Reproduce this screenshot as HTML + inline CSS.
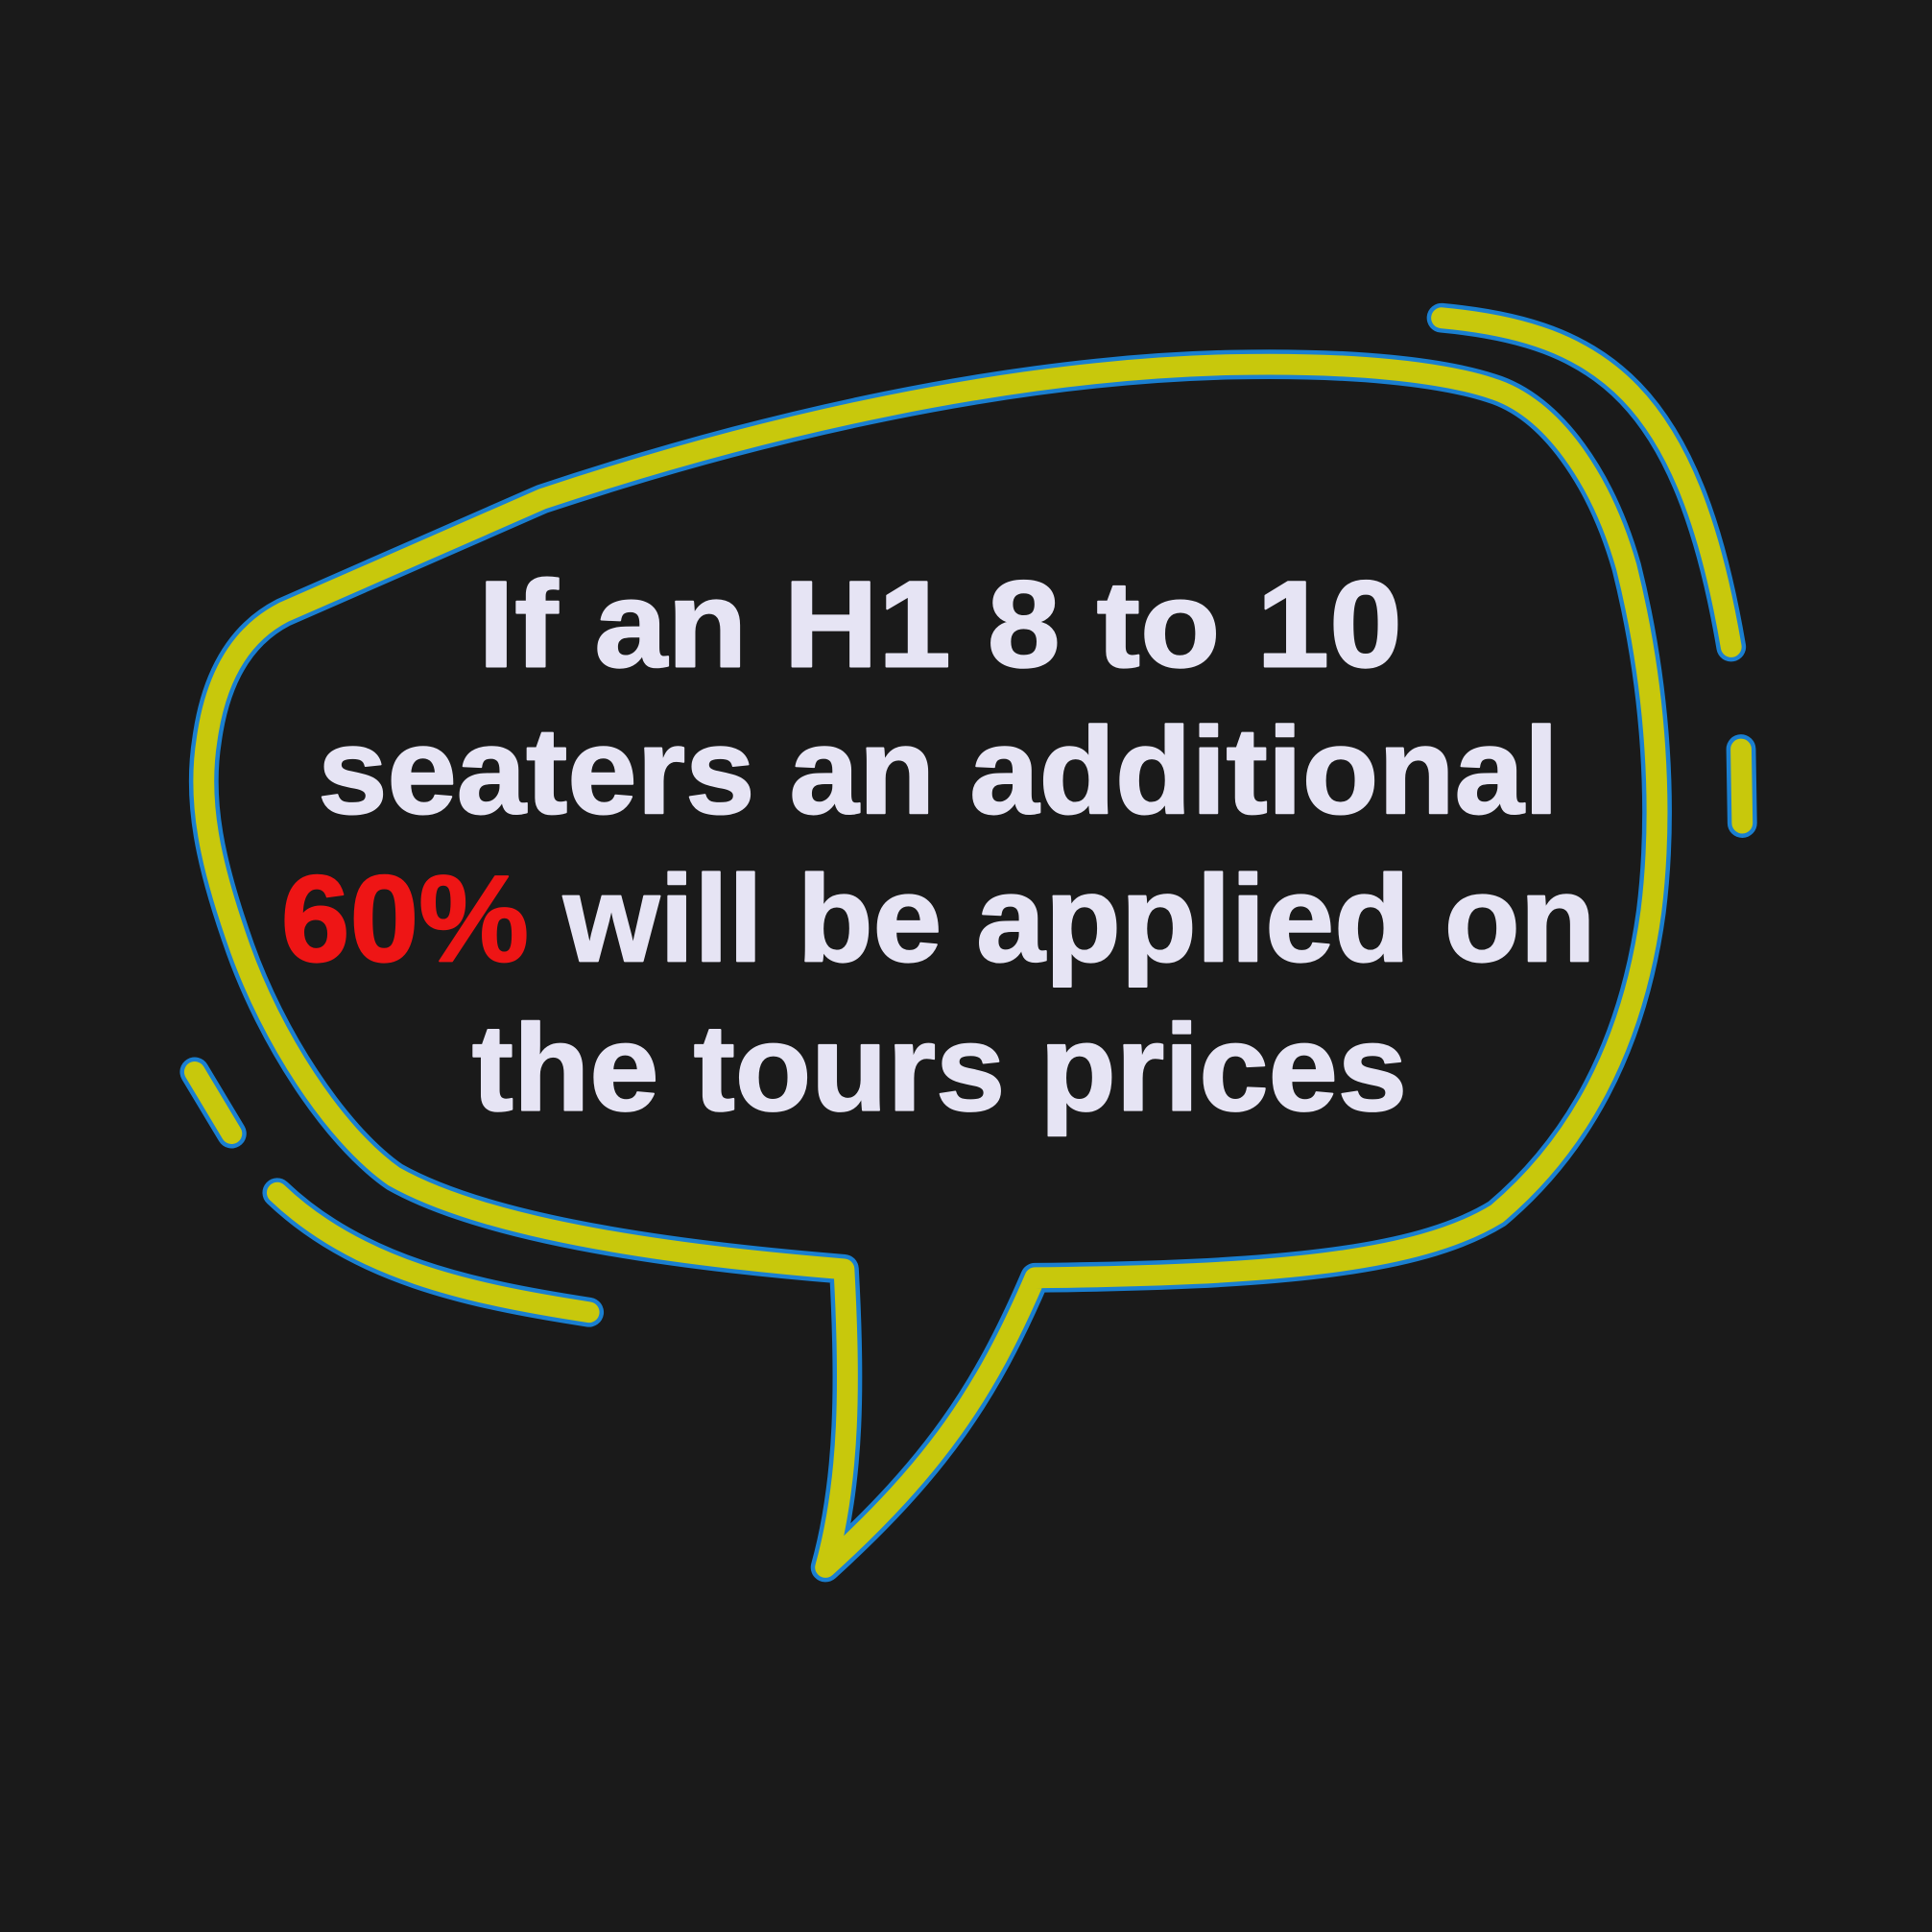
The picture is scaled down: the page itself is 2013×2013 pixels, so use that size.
<!DOCTYPE html>
<html><head><meta charset="utf-8"><style>
html,body{margin:0;padding:0;background:#1a1a1a;}
svg{display:block;}
text{font-family:"Liberation Sans",sans-serif;font-weight:bold;font-size:100px;fill:#e6e4f4;stroke:#e6e4f4;stroke-width:1.5;stroke-linejoin:round;}
</style></head><body>
<svg width="2013" height="2013" viewBox="0 0 1568 1568">
<rect width="1568" height="1568" fill="#1a1a1a"/>
<g fill="none" stroke-linecap="round" stroke-linejoin="round">
 <g stroke="#1a7fd0" stroke-width="24">
  <path d="M685 1030 C560 1020 400 1000 320 955 C270 920 220 840 195 770 C170 700 160 650 168 600 C175 550 195 515 230 497 L440 405 C620 345 820 300 1000 296 C1100 294 1170 302 1210 315 C1260 330 1300 390 1320 460 C1345 560 1350 660 1340 740 C1325 850 1280 930 1215 985 C1150 1025 1030 1035 840 1037 C800 1130 760 1190 670 1272 C690 1200 690 1120 685 1030 Z"/>
  <path d="M1170 258 C1300 270 1370 320 1405 525"/>
  <path d="M1413 608 L1414 668"/>
  <path d="M158 870 L188 920"/>
  <path d="M225 968 C290 1030 380 1050 478 1065"/>
 </g>
 <g stroke="#c8c80c" stroke-width="17">
  <path d="M685 1030 C560 1020 400 1000 320 955 C270 920 220 840 195 770 C170 700 160 650 168 600 C175 550 195 515 230 497 L440 405 C620 345 820 300 1000 296 C1100 294 1170 302 1210 315 C1260 330 1300 390 1320 460 C1345 560 1350 660 1340 740 C1325 850 1280 930 1215 985 C1150 1025 1030 1035 840 1037 C800 1130 760 1190 670 1272 C690 1200 690 1120 685 1030 Z"/>
  <path d="M1170 258 C1300 270 1370 320 1405 525"/>
  <path d="M1413 608 L1414 668"/>
  <path d="M158 870 L188 920"/>
  <path d="M225 968 C290 1030 380 1050 478 1065"/>
 </g>
</g>
<g>
 <text x="388" y="541" textLength="750" lengthAdjust="spacingAndGlyphs">If an H1  8 to 10</text>
 <text x="258" y="660" textLength="1007" lengthAdjust="spacingAndGlyphs">seaters an additional</text>
 <text x="228" y="780" textLength="1067" lengthAdjust="spacingAndGlyphs"><tspan style="fill:#ee1515;stroke:#ee1515">60%</tspan> will be applied on</text>
 <text x="383" y="901" textLength="759" lengthAdjust="spacingAndGlyphs">the tours prices</text>
</g>
</svg>
</body></html>
